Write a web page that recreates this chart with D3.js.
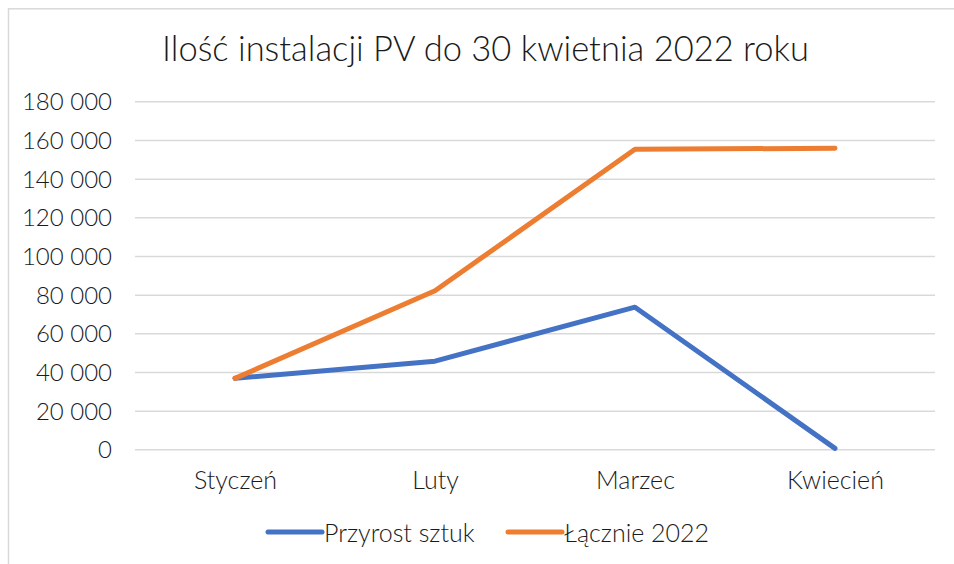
<!DOCTYPE html>
<html><head><meta charset="utf-8">
<script src="https://cdn.jsdelivr.net/npm/d3@7"></script>
<style>
html,body{margin:0;padding:0;background:#fff;}
svg{display:block;font-family:Lato,"Open Sans",sans-serif;}
</style></head>
<body><svg id="c" width="954" height="564"></svg>
<script>
const title = "Ilość instalacji PV do 30 kwietnia 2022 roku";
const categories = ["Styczeń", "Luty", "Marzec", "Kwiecień"];
const seriesNames = ["Przyrost sztuk", "Łącznie 2022"];
const przyrost = [36700, 45600, 73500, 500];
const lacznie = [36700, 82000, 155200, 155700];
const yTicks = [0, 20000, 40000, 60000, 80000, 100000, 120000, 140000, 160000, 180000];
const colors = ["#4472C4", "#ED7D31"];

const svg = d3.select("#c");
svg.append("rect").attr("x", 8.5).attr("y", 8.8).attr("width", 960).attr("height", 570)
  .attr("fill", "#fff").attr("stroke", "#d9d9d9").attr("stroke-width", 1.5);

const x = d3.scalePoint().domain(categories).range([235, 835]);
const y = d3.scaleLinear().domain([0, 180000]).range([449.3, 101.3]);

svg.append("text").attr("x", 485.5).attr("y", 61).attr("text-anchor", "middle")
  .attr("font-size", 34.5).attr("font-weight", 300).attr("fill", "#1a1a1a").text(title);

const fmt = v => d3.format(",")(v).replace(/,/g, " ");
const yAxis = d3.axisLeft(y).tickValues(yTicks).tickFormat(fmt).tickSize(-800).tickPadding(23);
const gy = svg.append("g").attr("transform", "translate(135,0)").call(yAxis);
gy.select(".domain").remove();
gy.selectAll(".tick line").attr("stroke", "#d9d9d9").attr("stroke-width", 1.5);
gy.selectAll(".tick text").attr("font-size", 24).attr("font-weight", 300).attr("fill", "#1a1a1a")
  .attr("font-family", "Lato, sans-serif").attr("dy", "0.36em");

const xAxis = d3.axisBottom(x).tickSize(0).tickPadding(0);
const gx = svg.append("g").attr("transform", "translate(0,489)").call(xAxis);
gx.select(".domain").remove();
gx.selectAll(".tick text").attr("font-size", 25).attr("font-weight", 300).attr("fill", "#1a1a1a")
  .attr("font-family", "Lato, sans-serif").attr("dy", 0);

const line = d3.line().x((d, i) => x(categories[i])).y(d => y(d));
[przyrost, lacznie].forEach((s, k) => {
  svg.append("path").datum(s).attr("d", line).attr("fill", "none")
    .attr("stroke", colors[k]).attr("stroke-width", 5)
    .attr("stroke-linecap", "round").attr("stroke-linejoin", "round");
});

const legX = [268, 508];
seriesNames.forEach((n, k) => {
  const g = svg.append("g").attr("transform", `translate(${legX[k]},532)`);
  g.append("line").attr("x1", 0).attr("x2", 54).attr("y1", 0).attr("y2", 0)
    .attr("stroke", colors[k]).attr("stroke-width", 5).attr("stroke-linecap", "round");
  g.append("text").attr("x", 56).attr("y", 9.5).attr("font-size", 25).attr("font-weight", 300)
    .attr("fill", "#1a1a1a").text(n);
});
</script></body></html>
